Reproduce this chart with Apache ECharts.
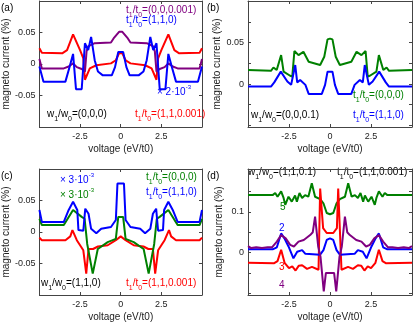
<!DOCTYPE html>
<html><head><meta charset="utf-8">
<script src="https://cdn.jsdelivr.net/npm/echarts@6/dist/echarts.min.js"></script>
<style>html,body{margin:0;padding:0;background:#fff}#c{width:415px;height:327px}</style>
</head><body><div id="c"></div>
<script>
// ---- data: [voltage, magneto current] ----
const xTicks = [-2.5, 0, 2.5];
const yTicksAC = [-0.1, -0.05, 0, 0.05, 0.1];
const yLabelsAC = [-0.05, 0, 0.05];
const yTicksB = [-0.05, -0.025, 0, 0.025, 0.05, 0.075, 0.1];
const yLabelsB = [0, 0.05];
const yTicksD = [-0.1, -0.05, 0, 0.05, 0.1, 0.15, 0.2];
const yLabelsD = [0, 0.1];

const aRed = [[-5,0.025],[-4.85,0.018],[-3.6,0.017],[-3.3,0.022],[-2.93,0.047],[-2.5,0.022],[-2.3,0.009],[-2.2,-0.025],[-1.9,-0.007],[-1.5,-0.002],[-0.6,0.001],[-0.3,0.006],[-0.1,0.017],[0,0.018],[0.1,0.017],[0.3,0.006],[0.6,0.001],[1.5,-0.002],[1.9,-0.007],[2.2,-0.025],[2.3,0.009],[2.5,0.022],[2.93,0.047],[3.3,0.022],[3.6,0.017],[4.85,0.018],[5,0.025]];
const aPurple = [[-5,0.008],[-4.85,-0.007],[-3.5,-0.007],[-3.2,-0.004],[-2.93,0.001],[-2.7,-0.005],[-2.4,-0.008],[-2.2,-0.012],[-2.1,0.02],[-2.0,0.028],[-1.6,0.033],[-0.6,0.034],[-0.4,0.042],[-0.1,0.051],[0,0.052],[0.1,0.051],[0.4,0.042],[0.6,0.034],[1.6,0.033],[2.0,0.028],[2.1,0.02],[2.2,-0.012],[2.4,-0.008],[2.7,-0.005],[2.93,0.001],[3.2,-0.004],[3.5,-0.007],[4.85,-0.007],[5,0.008]];
const aBlue = [[-5,-0.004],[-4.75,-0.028],[-3.4,-0.028],[-3.15,-0.005],[-2.93,0.016],[-2.75,-0.04],[-2.4,-0.04],[-2.2,0.033],[-2.0,0.022],[-1.82,0.043],[-1.6,0.006],[-1.4,-0.012],[-1.1,-0.018],[-0.55,-0.018],[-0.35,-0.005],[-0.15,0.019],[0,0.019],[0.15,0.019],[0.35,-0.005],[0.55,-0.018],[1.1,-0.018],[1.4,-0.012],[1.6,0.006],[1.82,0.043],[2.0,0.022],[2.2,0.033],[2.4,-0.04],[2.75,-0.04],[2.93,0.016],[3.15,-0.005],[3.4,-0.028],[4.75,-0.028],[5,-0.004]];

const bGreen = [[-5,0.017],[-3.6,0.016],[-3.45,0.02],[-3.25,0.017],[-2.98,0.035],[-2.83,0.015],[-2.43,0.01],[-2.3,0.009],[-2.17,0.04],[-1.92,0.035],[-1.62,0.039],[-1.3,0.027],[-0.6,0.023],[-0.35,0.033],[-0.15,0.054],[0,0.055],[0.15,0.054],[0.35,0.033],[0.6,0.023],[1.3,0.027],[1.62,0.039],[1.92,0.035],[2.17,0.04],[2.3,0.009],[2.43,0.01],[2.83,0.015],[2.98,0.035],[3.25,0.017],[3.45,0.02],[3.6,0.016],[5,0.017]];
const bBlue = [[-5,-0.003],[-3.6,-0.003],[-3.4,0.002],[-3.0,0.015],[-2.6,0.003],[-2.37,-0.001],[-2.12,0.023],[-2.0,0.002],[-1.82,0.005],[-1.5,-0.001],[-1.3,-0.012],[-0.5,-0.012],[-0.3,-0.001],[-0.15,0.015],[0,0.015],[0.15,0.015],[0.3,-0.001],[0.5,-0.012],[1.3,-0.012],[1.5,-0.001],[1.82,0.005],[2.0,0.002],[2.12,0.023],[2.37,-0.001],[2.6,0.003],[3.0,0.015],[3.4,0.002],[3.6,-0.003],[5,-0.003]];

const cBlue = [[-5,0.035],[-4.85,0.016],[-3.5,0.016],[-3.2,0.035],[-2.93,0.048],[-2.67,0.035],[-2.6,0.003],[-2.3,0.002],[-2.18,0.037],[-1.98,0.029],[-1.82,0.005],[-1.5,-0.002],[-1.2,0.005],[-0.6,0.008],[-0.3,0.019],[-0.2,0.077],[0,0.077],[0.2,0.077],[0.3,0.019],[0.6,0.008],[1.2,0.005],[1.5,-0.002],[1.82,0.005],[1.98,0.029],[2.18,0.037],[2.3,0.002],[2.6,0.003],[2.67,0.035],[2.93,0.048],[3.2,0.035],[3.5,0.016],[4.85,0.016],[5,0.035]];
const cGreen = [[-5,0.021],[-4.85,0.011],[-3.5,0.011],[-2.93,0.035],[-2.4,0.024],[-2.22,0.021],[-2.06,-0.019],[-1.72,-0.066],[-1.41,-0.027],[-0.8,-0.016],[-0.3,-0.011],[-0.15,0.024],[0,0.024],[0.15,0.024],[0.3,-0.011],[0.8,-0.016],[1.41,-0.027],[1.72,-0.066],[2.06,-0.019],[2.22,0.021],[2.4,0.024],[2.93,0.035],[3.5,0.011],[4.85,0.011],[5,0.021]];
const cRed = [[-5,-0.009],[-4.85,-0.013],[-3.4,-0.013],[-3.1,-0.007],[-2.97,0.003],[-2.7,-0.013],[-2.5,-0.021],[-2.3,-0.029],[-2.12,-0.066],[-1.98,-0.027],[-1.7,-0.027],[-1.4,-0.023],[-0.8,-0.021],[-0.3,-0.013],[0,-0.007],[0.3,-0.013],[0.8,-0.021],[1.4,-0.023],[1.7,-0.027],[1.98,-0.027],[2.12,-0.066],[2.3,-0.029],[2.5,-0.021],[2.7,-0.013],[2.97,0.003],[3.1,-0.007],[3.4,-0.013],[4.85,-0.013],[5,-0.009]];

const dGreen = [[-5,0.141],[-3.5,0.141],[-3.34,0.146],[-3.2,0.137],[-2.98,0.15],[-2.83,0.134],[-2.73,0.117],[-2.53,0.137],[-2.33,0.125],[-2.13,0.14],[-2.02,0.125],[-1.86,0.146],[-1.7,0.134],[-1.52,0.141],[-1.32,0.137],[-1.11,0.17],[-0.91,0.137],[-0.6,0.131],[-0.4,0.121],[-0.2,0.097],[0,0.094],[0.2,0.097],[0.4,0.121],[0.6,0.131],[0.91,0.137],[1.11,0.17],[1.32,0.137],[1.52,0.141],[1.7,0.134],[1.86,0.146],[2.02,0.125],[2.13,0.14],[2.33,0.125],[2.53,0.137],[2.73,0.117],[2.83,0.134],[2.98,0.15],[3.2,0.137],[3.34,0.146],[3.5,0.141],[5,0.141]];
const dBlue = [[-5,0.008],[-3.5,0.008],[-3.24,0.013],[-2.98,0.047],[-2.78,0.035],[-2.53,0.015],[-2.23,-0.014],[-2.0,0.002],[-1.7,0.006],[-1.5,-0.003],[-0.6,-0.005],[-0.4,0.006],[-0.2,0.031],[0,0.035],[0.2,0.031],[0.4,0.006],[0.6,-0.005],[1.5,-0.003],[1.7,0.006],[2.0,0.002],[2.23,-0.014],[2.53,0.015],[2.78,0.035],[2.98,0.047],[3.24,0.013],[3.5,0.008],[5,0.008]];
const dRed = [[-5,-0.025],[-3.4,-0.026],[-3.2,-0.021],[-2.98,0.007],[-2.77,-0.025],[-2.5,-0.038],[-2.3,-0.034],[-2.1,-0.044],[-1.9,-0.032],[-1.7,-0.031],[-1.4,-0.04],[-1.1,-0.035],[-0.7,-0.042],[-0.6,0.157],[-0.5,0.157],[-0.42,0.06],[-0.2,0.048],[0,0.048],[0.2,0.048],[0.42,0.06],[0.5,0.157],[0.6,0.157],[0.7,-0.042],[1.1,-0.035],[1.4,-0.04],[1.7,-0.031],[1.9,-0.032],[2.1,-0.044],[2.3,-0.034],[2.5,-0.038],[2.77,-0.025],[2.98,0.007],[3.2,-0.021],[3.4,-0.026],[5,-0.025]];
const dPurple = [[-5,0.016],[-4.8,0.011],[-4.5,0.013],[-4.15,0.011],[-3.8,0.013],[-3.54,0.013],[-3.24,0.027],[-2.98,0.043],[-2.7,0.035],[-2.43,0.019],[-2.2,0.015],[-1.92,0.027],[-1.6,0.031],[-1.21,0.043],[-1.05,0.05],[-0.91,0.088],[-0.72,0.015],[-0.58,-0.01],[-0.38,-0.095],[-0.25,-0.05],[0,-0.05],[0.25,-0.05],[0.38,-0.095],[0.58,-0.01],[0.72,0.015],[0.91,0.088],[1.05,0.05],[1.21,0.043],[1.6,0.031],[1.92,0.027],[2.2,0.015],[2.43,0.019],[2.7,0.035],[2.98,0.043],[3.24,0.027],[3.54,0.013],[3.8,0.013],[4.15,0.011],[4.5,0.013],[4.8,0.011],[5,0.016]];

// ---- styling ----
const RED='#ff0000', BLUE='#0000ff', GREEN='#008000', PURPLE='#800080', BLACK='#000000';
const FONT='Liberation Sans';
const AX='#444';
const panels = [
  {left:37, top:1, width:165, height:126, ymin:-0.1, ymax:0.1, yt:yTicksAC, yl:yLabelsAC, gap:19,
   series:[[aRed,RED],[aPurple,PURPLE],[aBlue,BLUE]]},
  {left:248, top:1, width:164, height:126, ymin:-0.052, ymax:0.1005, yt:yTicksB, yl:yLabelsB, gap:24,
   series:[[bGreen,GREEN],[bBlue,BLUE]]},
  {left:37, top:169, width:165, height:126, ymin:-0.1, ymax:0.1, yt:yTicksAC, yl:yLabelsAC, gap:19,
   series:[[cRed,RED],[cGreen,GREEN],[cBlue,BLUE]]},
  {left:248, top:169, width:164, height:126, ymin:-0.104, ymax:0.205, yt:yTicksD, yl:yLabelsD, gap:24,
   series:[[dGreen,GREEN],[dRed,RED],[dBlue,BLUE],[dPurple,PURPLE]]}
];

const grid=[], xAxis=[], yAxis=[], series=[];
panels.forEach((p,i)=>{
  grid.push({left:p.left, top:p.top, width:p.width, height:p.height, containLabel:false});
  const axLine = {show:true, onZero:false, lineStyle:{color:AX, width:1}};
  xAxis.push({type:'value', gridIndex:i, min:-5, max:5, position:'bottom',
    name:'voltage (eV/t0)', nameLocation:'middle', nameGap:17,
    nameTextStyle:{fontFamily:FONT, fontSize:10, color:'#222'},
    axisLine:axLine, splitLine:{show:false},
    axisTick:{inside:true, length:3, customValues:xTicks, lineStyle:{color:AX}},
    axisLabel:{customValues:xTicks, fontFamily:FONT, fontSize:9, color:'#222', margin:5,
      formatter:v=>String(v)}});
  xAxis.push({type:'value', gridIndex:i, min:-5, max:5, position:'top',
    axisLine:axLine, splitLine:{show:false},
    axisTick:{inside:true, length:3, customValues:xTicks, lineStyle:{color:AX}},
    axisLabel:{show:false}});
  yAxis.push({type:'value', gridIndex:i, min:p.ymin, max:p.ymax, position:'left',
    name:'magneto current (%)', nameLocation:'middle', nameGap:p.gap,
    nameTextStyle:{fontFamily:FONT, fontSize:10, color:'#222'},
    axisLine:axLine, splitLine:{show:false},
    axisTick:{inside:true, length:3, customValues:p.yt, lineStyle:{color:AX}},
    axisLabel:{customValues:p.yl, fontFamily:FONT, fontSize:9, color:'#222', margin:4,
      formatter:v=>String(v)}});
  yAxis.push({type:'value', gridIndex:i, min:p.ymin, max:p.ymax, position:'right',
    axisLine:axLine, splitLine:{show:false},
    axisTick:{inside:true, length:3, customValues:p.yt, lineStyle:{color:AX}},
    axisLabel:{show:false}});
  p.series.forEach(([d,c])=>{
    series.push({type:'line', xAxisIndex:2*i, yAxisIndex:2*i, data:d, showSymbol:false,
      symbol:'none', animation:false, lineStyle:{color:c, width:2}, itemStyle:{color:c}});
  });
});

function rich(c){
  return {
    n:{fontSize:10, fontFamily:FONT, fill:c, color:c, lineHeight:13, verticalAlign:'top'},
    s:{fontSize:7, fontFamily:FONT, fill:c, color:c, lineHeight:13, verticalAlign:'bottom'},
    b:{fontSize:10, fontFamily:FONT, fill:c, color:c, lineHeight:13, verticalAlign:'bottom'},
    p:{fontSize:6, fontFamily:FONT, fill:c, color:c, lineHeight:13, verticalAlign:'top'}
  };
}
function tt(sym, vals){ return '{n|'+sym+'}{s|1}{n|/'+sym+'}{s|0}{n|=('+vals+')}'; }
function lab(x,y,text,c){
  return {type:'text', x:x, y:y, silent:true,
    style:{text:text, fill:c, font:'10px '+FONT, align:'left', verticalAlign:'middle', rich:rich(c)}};
}
function mult(x,y,n,c){ return lab(x,y,'{b|× '+n+'·10}{p|-3}',c); }
function plain(x,y,t,c){
  return {type:'text', x:x, y:y, silent:true,
    style:{text:t, fill:c, font:'10px '+FONT, align:'left', verticalAlign:'middle'}};
}

const graphic = [
  plain(1,8,'(a)',BLACK), plain(207,8,'(b)',BLACK), plain(1,176,'(c)',BLACK), plain(207,176,'(d)',BLACK),
  lab(126,12,tt('t','0,0,0.001'),PURPLE),
  lab(126,22,tt('t','1,1,0'),BLUE),
  mult(157,91,'2',BLUE),
  lab(47,116,tt('w','0,0,0'),BLACK),
  lab(135,116,tt('t','1,1,0.001'),RED),
  lab(353,97,tt('t','0,0,0'),GREEN),
  lab(251,117,tt('w','0,0,0.1'),BLACK),
  lab(353,117,tt('t','1,1,0'),BLUE),
  mult(60,179,'3',BLUE),
  mult(60,194,'3',GREEN),
  lab(146,179,tt('t','0,0,0'),GREEN),
  lab(146,194,tt('t','1,1,0'),BLUE),
  lab(41,285,tt('w','1,1,0'),BLACK),
  lab(126,285,tt('t','1,1,0.001'),RED),
  lab(248,174,tt('w','1,1,0.1'),BLACK),
  lab(337,174,tt('t','1,1,0.001'),BLACK),
  plain(280,207,'5',GREEN), plain(279,228,'2',BLUE), plain(279,267,'3',RED), plain(279,285,'4',PURPLE)
];

const chart = echarts.init(document.getElementById('c'), null, {renderer:'canvas'});
chart.setOption({animation:false, backgroundColor:'#fff', grid, xAxis, yAxis, series, graphic});
</script></body></html>
